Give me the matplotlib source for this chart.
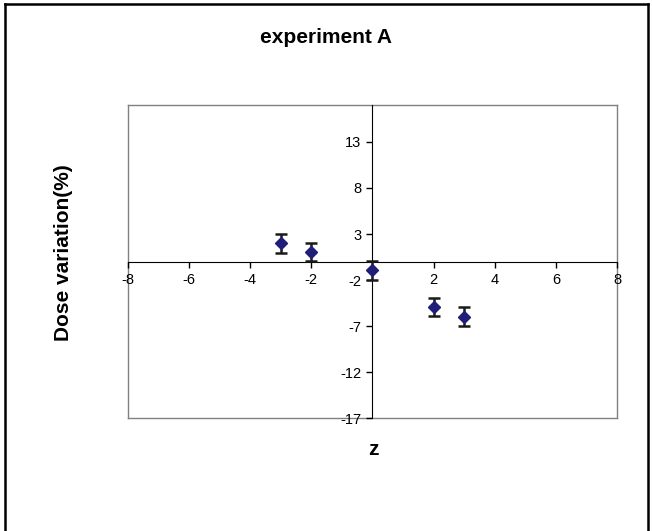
import numpy as np
import matplotlib.pyplot as plt
from matplotlib.lines import Line2D

plt.rcParams['font.family'] = ['Liberation Sans', 'DejaVu Sans']
plt.rcParams['axes.unicode_minus'] = False

# data
z = [-3, -2, 0, 2, 3]
dose = [2.0, 1.05, -0.95, -4.9, -5.95]
err = [1.0, 1.0, 1.0, 1.0, 1.0]

x_ticks = [-8, -6, -4, -2, 2, 4, 6, 8]
y_ticks = [-17, -12, -7, -2, 3, 8, 13]

fig = plt.figure(figsize=(6.52, 5.31), dpi=100)
ax = fig.add_axes([0.1956, 0.2119, 0.751, 0.5904])

ax.errorbar(z, dose, yerr=err, fmt='D', color='#1f1f7a', markersize=6,
            ecolor='#1a1a1a', elinewidth=1.8, capsize=4.5, capthick=1.8, zorder=3)

ax.set_xlim(-8, 8)
ax.set_ylim(-17, 17)
ax.set_xticks(x_ticks)
ax.set_yticks(y_ticks)

# Excel-style axes crossing at zero
ax.spines['left'].set_position(('data', 0))
ax.spines['bottom'].set_position(('data', 0))
ax.spines['left'].set_color('black')
ax.spines['bottom'].set_color('black')
for s in ['top', 'right']:
    ax.spines[s].set_visible(False)
# plot area border
for xs, ys in [([-8, 8], [17, 17]), ([-8, 8], [-17, -17]),
               ([-8, -8], [-17, 17]), ([8, 8], [-17, 17])]:
    ax.plot(xs, ys, color='#808080', linewidth=1, clip_on=False, zorder=1)

ax.tick_params(axis='both', direction='out', length=4, width=1,
               labelsize=10.5, colors='black', pad=4)

fig.text(0.5, 0.93, 'experiment A', ha='center', va='center',
         fontsize=15, fontweight='bold')
fig.text(0.572, 0.154, 'z', ha='center', va='center',
         fontsize=15, fontweight='bold')
fig.text(0.097, 0.524, 'Dose variation(%)', ha='center', va='center',
         rotation=90, fontsize=15, fontweight='bold')

# chart border
for xs, ys in [([0.007, 0.007], [0, 0.993]), ([0.007, 0.994], [0.993, 0.993]),
               ([0.994, 0.994], [0, 0.993])]:
    fig.add_artist(Line2D(xs, ys, color='black', linewidth=1.8,
                          transform=fig.transFigure))

fig.savefig('out.png', dpi=100)
